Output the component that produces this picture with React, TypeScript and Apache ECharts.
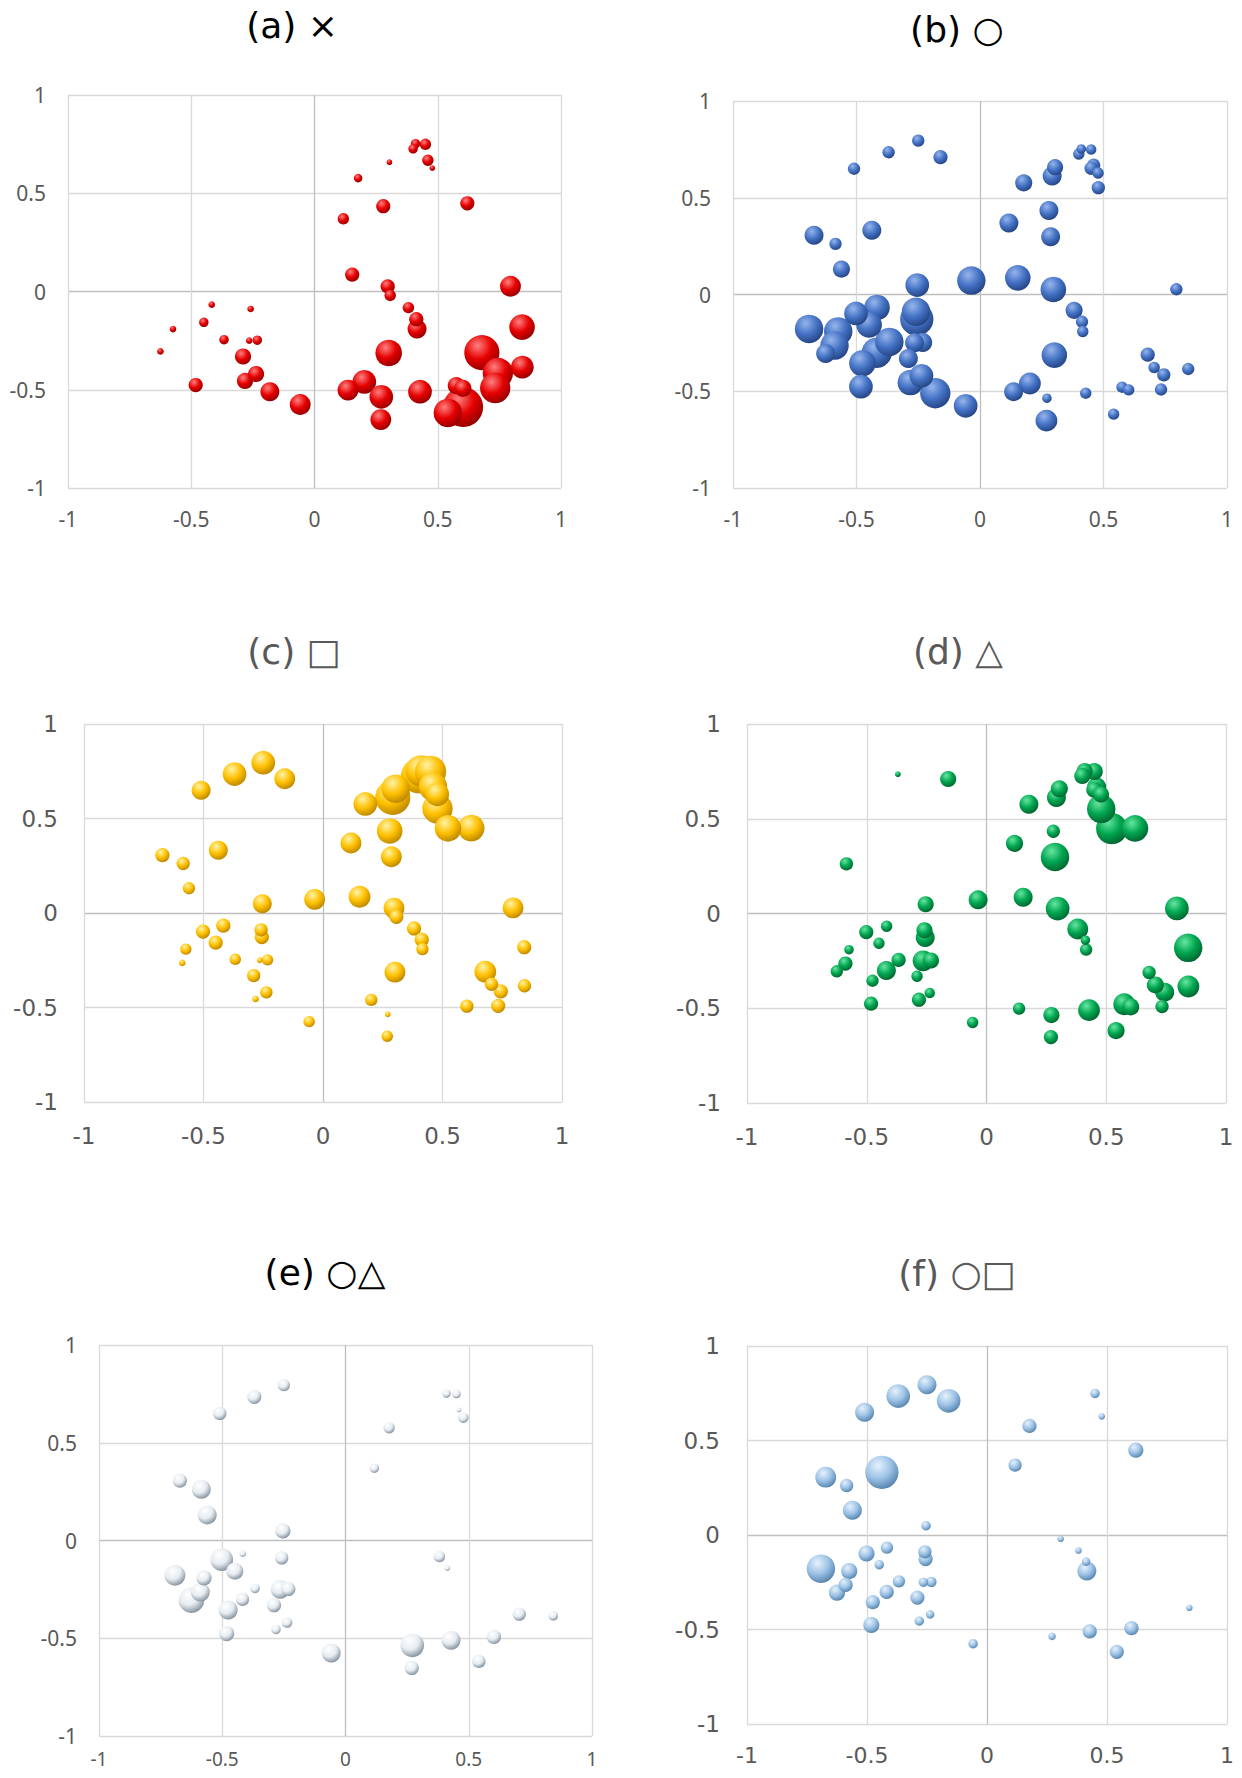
import React, { useEffect, useRef } from "react";
import * as echarts from "echarts";

// Shared positions of the items (same layout in all six panels)
const xs = [
  -0.51, -0.37, -0.25, -0.16, 0.41, 0.40, 0.45, 0.46, 0.45, 0.478,
  0.479, 0.304, 0.292, 0.177, 0.279, 0.117, 0.286, -0.672, -0.585, -0.438,
  -0.561, -0.254, -0.035, 0.153, 0.297, 0.795, 0.381, 0.413, 0.416, 0.301,
  0.202, 0.136, 0.271, 0.269, 0.428, 0.541, 0.575, 0.602, 0.679, 0.705,
  0.744, 0.733, 0.843, -0.692, -0.574, -0.589, -0.625, -0.502, -0.417, -0.449,
  -0.367, -0.418, -0.476, -0.482, -0.259, -0.256, -0.232, -0.265, -0.29, -0.282,
  -0.237, -0.181, -0.058, 0.62, 0.523, 0.307, 0.842, 0.603,
];
const ys = [
  0.65, 0.735, 0.795, 0.71, 0.752, 0.726, 0.749, 0.668, 0.653, 0.628,
  0.552, 0.658, 0.612, 0.577, 0.434, 0.37, 0.298, 0.306, 0.262, 0.332,
  0.131, 0.049, 0.072, 0.086, 0.026, 0.027, -0.082, -0.141, -0.191, -0.313,
  -0.46, -0.502, -0.536, -0.652, -0.51, -0.618, -0.479, -0.493, -0.311, -0.377,
  -0.415, -0.491, -0.385, -0.178, -0.191, -0.264, -0.305, -0.098, -0.067, -0.157,
  -0.245, -0.301, -0.355, -0.476, -0.089, -0.127, -0.248, -0.25, -0.331, -0.455,
  -0.42, -0.51, -0.575, 0.449, 0.448, -0.02, -0.181, -0.588,
];

// Bubble sizes per panel (0 = not shown)
const sizeA = [
  0, 0, 0, 0, 10, 10, 12, 12, 0, 6,
  0, 6, 0, 9, 15, 12, 0, 0, 0, 0,
  0, 0, 0, 15, 15, 22, 12, 15, 20, 28,
  25, 22, 25, 22, 25, 30, 18, 18, 37, 0,
  32, 32, 24, 0, 7, 0, 7, 0, 7, 10,
  10, 0, 0, 15, 7, 0, 10, 7, 17, 17,
  17, 20, 22, 15, 0, 12, 27, 42,
];
const sizeB = [
  13, 13, 13, 15, 10, 12, 11, 14, 14, 12,
  14, 17, 20, 18, 20, 20, 20, 20, 13, 20,
  18, 25, 30, 27, 27, 13, 18, 13, 12, 27,
  23, 20, 10, 23, 12, 12, 12, 12, 15, 12,
  14, 13, 13, 30, 30, 30, 20, 25, 27, 27,
  30, 32, 28, 25, 30, 35, 20, 20, 20, 27,
  25, 32, 25, 0, 0, 0, 0, 0,
];
const sizeC = [
  20, 25, 25, 22, 33, 37, 33, 30, 0, 25,
  32, 30, 37, 25, 27, 22, 22, 15, 14, 20,
  13, 20, 22, 23, 22, 22, 15, 15, 13, 22,
  13, 0, 6, 12, 0, 0, 0, 14, 23, 14,
  15, 15, 14, 0, 12, 7, 0, 15, 15, 15,
  12, 0, 0, 0, 14, 15, 12, 6, 14, 7,
  13, 0, 12, 28, 28, 15, 15, 0,
];
const sizeD = [
  0, 6, 0, 17, 17, 17, 18, 20, 17, 17,
  30, 18, 20, 20, 14, 18, 30, 0, 14, 0,
  0, 17, 20, 20, 25, 25, 22, 10, 13, 0,
  0, 13, 17, 15, 23, 18, 23, 18, 14, 18,
  20, 14, 23, 0, 10, 15, 13, 15, 12, 12,
  15, 20, 13, 15, 17, 20, 17, 22, 12, 15,
  11, 0, 12, 28, 33, 0, 30, 0,
];
const sizeE = [
  14, 15, 13, 0, 9, 0, 9, 5, 0, 11,
  0, 0, 0, 12, 0, 10, 0, 15, 20, 0,
  20, 16, 0, 0, 0, 0, 12, 6, 0, 0,
  0, 0, 25, 15, 20, 14, 0, 15, 0, 14,
  0, 0, 10, 22, 16, 20, 27, 24, 7, 18,
  10, 14, 20, 16, 14, 0, 15, 20, 15, 10,
  11, 0, 20, 0, 0, 0, 0, 0,
];
const sizeF = [
  20, 25, 20, 25, 0, 0, 10, 0, 0, 7,
  0, 0, 0, 15, 0, 14, 0, 22, 14, 35,
  20, 10, 0, 0, 0, 0, 7, 9, 20, 0,
  0, 0, 8, 0, 15, 15, 0, 15, 0, 0,
  0, 0, 7, 30, 17, 15, 17, 17, 13, 10,
  13, 15, 15, 17, 14, 15, 11, 10, 15, 10,
  9, 0, 10, 16, 0, 7, 0, 0,
];

const titles = ["(a) ×", "(b) ○", "(c) □", "(d) △", "(e) ○△", "(f) ○□"];
const sizes = [sizeA, sizeB, sizeC, sizeD, sizeE, sizeF];
const axisMin = -1;
const axisMax = 1;
const axisStep = 0.5;

// layout / style (not data)
const panels = [
  { l: 68, t: 95, r: 561, b: 488, tx: 292, ty: 25, tc: "#000000", lf: "Noto Sans", ls: 21, xs: 21, ym: 22, xm: 20, col: ["#ff8080", "#e60000", "#860000"] },
  { l: 733, t: 101, r: 1227, b: 488, tx: 957, ty: 29, tc: "#000000", lf: "Noto Sans", ls: 21, xs: 21, ym: 22, xm: 20, col: ["#96b5ec", "#4472c4", "#1f3c78"] },
  { l: 84, t: 724, r: 562, b: 1102, tx: 294, ty: 651, tc: "#595959", lf: "DejaVu Sans", ls: 23, xs: 23, ym: 26, xm: 22, col: ["#fff3a6", "#ffc000", "#b07d00"] },
  { l: 747, t: 724, r: 1226, b: 1103, tx: 958, ty: 651, tc: "#595959", lf: "DejaVu Sans", ls: 23, xs: 23, ym: 26, xm: 22, col: ["#66e6a0", "#00a550", "#005a2a"] },
  { l: 99, t: 1345, r: 592, b: 1736, tx: 325, ty: 1272, tc: "#000000", lf: "Noto Sans", ls: 21, xs: 19, ym: 22, xm: 13, col: ["#ffffff", "#e6ecf1", "#74818f"] },
  { l: 747, t: 1346, r: 1227, b: 1724, tx: 957, ty: 1273, tc: "#595959", lf: "DejaVu Sans", ls: 23, xs: 22, ym: 27, xm: 20, col: ["#e6f1fb", "#9dc3e6", "#4a79a3"] },
];

const splitColors = ["#d9d9d9", "#d9d9d9", "#bfbfbf", "#d9d9d9", "#d9d9d9"];

export default function App() {
  const ref = useRef<HTMLDivElement>(null);

  useEffect(() => {
    if (!ref.current) return;
    const chart = echarts.init(ref.current, undefined, { renderer: "svg" });

    const grid: any[] = [];
    const xAxis: any[] = [];
    const yAxis: any[] = [];
    const series: any[] = [];
    const graphic: any[] = [];

    panels.forEach((p, i) => {
      grid.push({ left: p.l, top: p.t, width: p.r - p.l, height: p.b - p.t, containLabel: false, show: false });
      const common = {
        gridIndex: i,
        type: "value",
        min: axisMin,
        max: axisMax,
        interval: axisStep,
        axisLine: { show: false },
        axisTick: { show: false },
        splitLine: { show: true, showMinLine: true, showMaxLine: true, lineStyle: { color: splitColors, width: 1.3 } },
      };
      xAxis.push({
        ...common,
        axisLabel: { color: "#595959", fontSize: p.xs, fontFamily: p.lf, margin: p.xm, lineHeight: p.xs, showMinLabel: true, showMaxLabel: true },
      });
      yAxis.push({
        ...common,
        axisLabel: { color: "#595959", fontSize: p.ls, fontFamily: p.lf, margin: p.ym, showMinLabel: true, showMaxLabel: true },
      });

      const s = sizes[i];
      const data: number[][] = [];
      for (let k = 0; k < xs.length; k++) {
        if (s[k] > 0) data.push([xs[k], ys[k], s[k]]);
      }
      data.sort((a, b) => b[2] - a[2]);

      const fill = new echarts.graphic.RadialGradient(0.38, 0.3, 0.78, [
        { offset: 0, color: p.col[0] },
        { offset: 0.5, color: p.col[1] },
        { offset: 1, color: p.col[2] },
      ]);

      series.push({
        type: "scatter",
        xAxisIndex: i,
        yAxisIndex: i,
        data,
        symbol: "circle",
        symbolSize: (v: number[]) => v[2] * 0.95,
        itemStyle: { color: fill, opacity: 1 },
        emphasis: { disabled: true },
        silent: true,
      });

      graphic.push({
        type: "text",
        x: p.tx,
        y: p.ty,
        style: {
          text: titles[i],
          fill: p.tc,
          font: `36px 'DejaVu Sans', 'Noto Sans CJK JP', sans-serif`,
          textAlign: "center",
          textVerticalAlign: "middle",
          align: "center",
          verticalAlign: "middle",
        },
      });
    });

    chart.setOption({
      animation: false,
      backgroundColor: "#ffffff",
      grid,
      xAxis,
      yAxis,
      series,
      graphic,
    });

    return () => chart.dispose();
  }, []);

  return (
    <div
      ref={ref}
      style={{ position: "absolute", left: 0, top: 0, width: 1242, height: 1778 }}
    />
  );
}
